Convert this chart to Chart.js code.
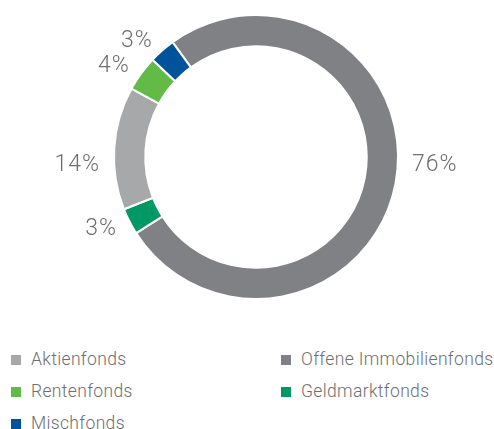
<!DOCTYPE html>
<html>
<head>
<meta charset="utf-8">
<script src="https://cdn.jsdelivr.net/npm/chart.js@4/dist/chart.umd.min.js"></script>
<style>
  html, body { margin: 0; padding: 0; background: #fff; }
  body { width: 494px; height: 429px; position: relative; overflow: hidden; font-family: "Roboto", "Lato", sans-serif; }
  #wrap { position: absolute; left: 0; top: 0; width: 494px; height: 314px; }
  #legend { position: absolute; left: 11px; top: 343px; width: 483px; display: grid; grid-template-columns: 270px 213px; row-gap: 0; }
  .item { height: 32px; line-height: 32px; font-size: 17.5px; letter-spacing: 0.35px; color: #6d6e71; font-weight: 300; white-space: nowrap; }
  .sw { display: inline-block; width: 10px; height: 10px; margin-right: 10px; vertical-align: 0px; }
</style>
</head>
<body>
<div id="wrap"><canvas id="chart"></canvas></div>
<div id="legend"></div>
<script>
// ---------- DATA ----------
const labels = ["Offene Immobilienfonds", "Geldmarktfonds", "Aktienfonds", "Rentenfonds", "Mischfonds"];
const values = [76, 3, 14, 4, 3];
const colors = ["#808184", "#009865", "#a7a8aa", "#62bb46", "#00529b"];
const legendOrder = ["Aktienfonds", "Offene Immobilienfonds", "Rentenfonds", "Geldmarktfonds", "Mischfonds"];

// ---------- OUTSIDE LABELS ----------
const outsideLabels = {
  id: "outsideLabels",
  afterDatasetsDraw(chart) {
    const ctx = chart.ctx;
    const meta = chart.getDatasetMeta(0);
    ctx.save();
    ctx.font = "300 23px Roboto, Lato, sans-serif";
    ctx.letterSpacing = "1px";
    ctx.fillStyle = "#6d6e71";
    ctx.textBaseline = "middle";
    meta.data.forEach((arc, i) => {
      const span = arc.endAngle - arc.startAngle;
      const mid = (arc.startAngle + arc.endAngle) / 2;
      const r = arc.outerRadius + 14;
      const right = Math.cos(mid) >= 0;
      ctx.textAlign = right ? "left" : "right";
      let x, y;
      if (span > 0.8) {
        // wide slices: label sits level with the centre
        x = arc.x + (right ? r : -r);
        y = arc.y + 7;
      } else {
        x = arc.x + Math.cos(mid) * r;
        y = arc.y + Math.sin(mid) * r;
      }
      ctx.fillText(values[i] + "%", x, y + 1);
    });
    ctx.restore();
  }
};

new Chart(document.getElementById("chart"), {
  type: "doughnut",
  data: {
    labels: labels,
    datasets: [{
      data: values,
      backgroundColor: colors,
      borderColor: "#ffffff",
      borderWidth: 2
    }]
  },
  options: {
    responsive: true,
    maintainAspectRatio: false,
    animation: false,
    rotation: -36,
    cutout: "78%",
    layout: { padding: { left: 18, top: 14, bottom: 14 } },
    plugins: {
      legend: { display: false },
      tooltip: { enabled: false }
    }
  },
  plugins: [outsideLabels]
});

// ---------- LEGEND ----------
const legend = document.getElementById("legend");
legendOrder.forEach(name => {
  const i = labels.indexOf(name);
  legend.innerHTML += `<div class="item"><span class="sw" style="background:${colors[i]}"></span>${name}</div>`;
});
</script>
</body>
</html>
